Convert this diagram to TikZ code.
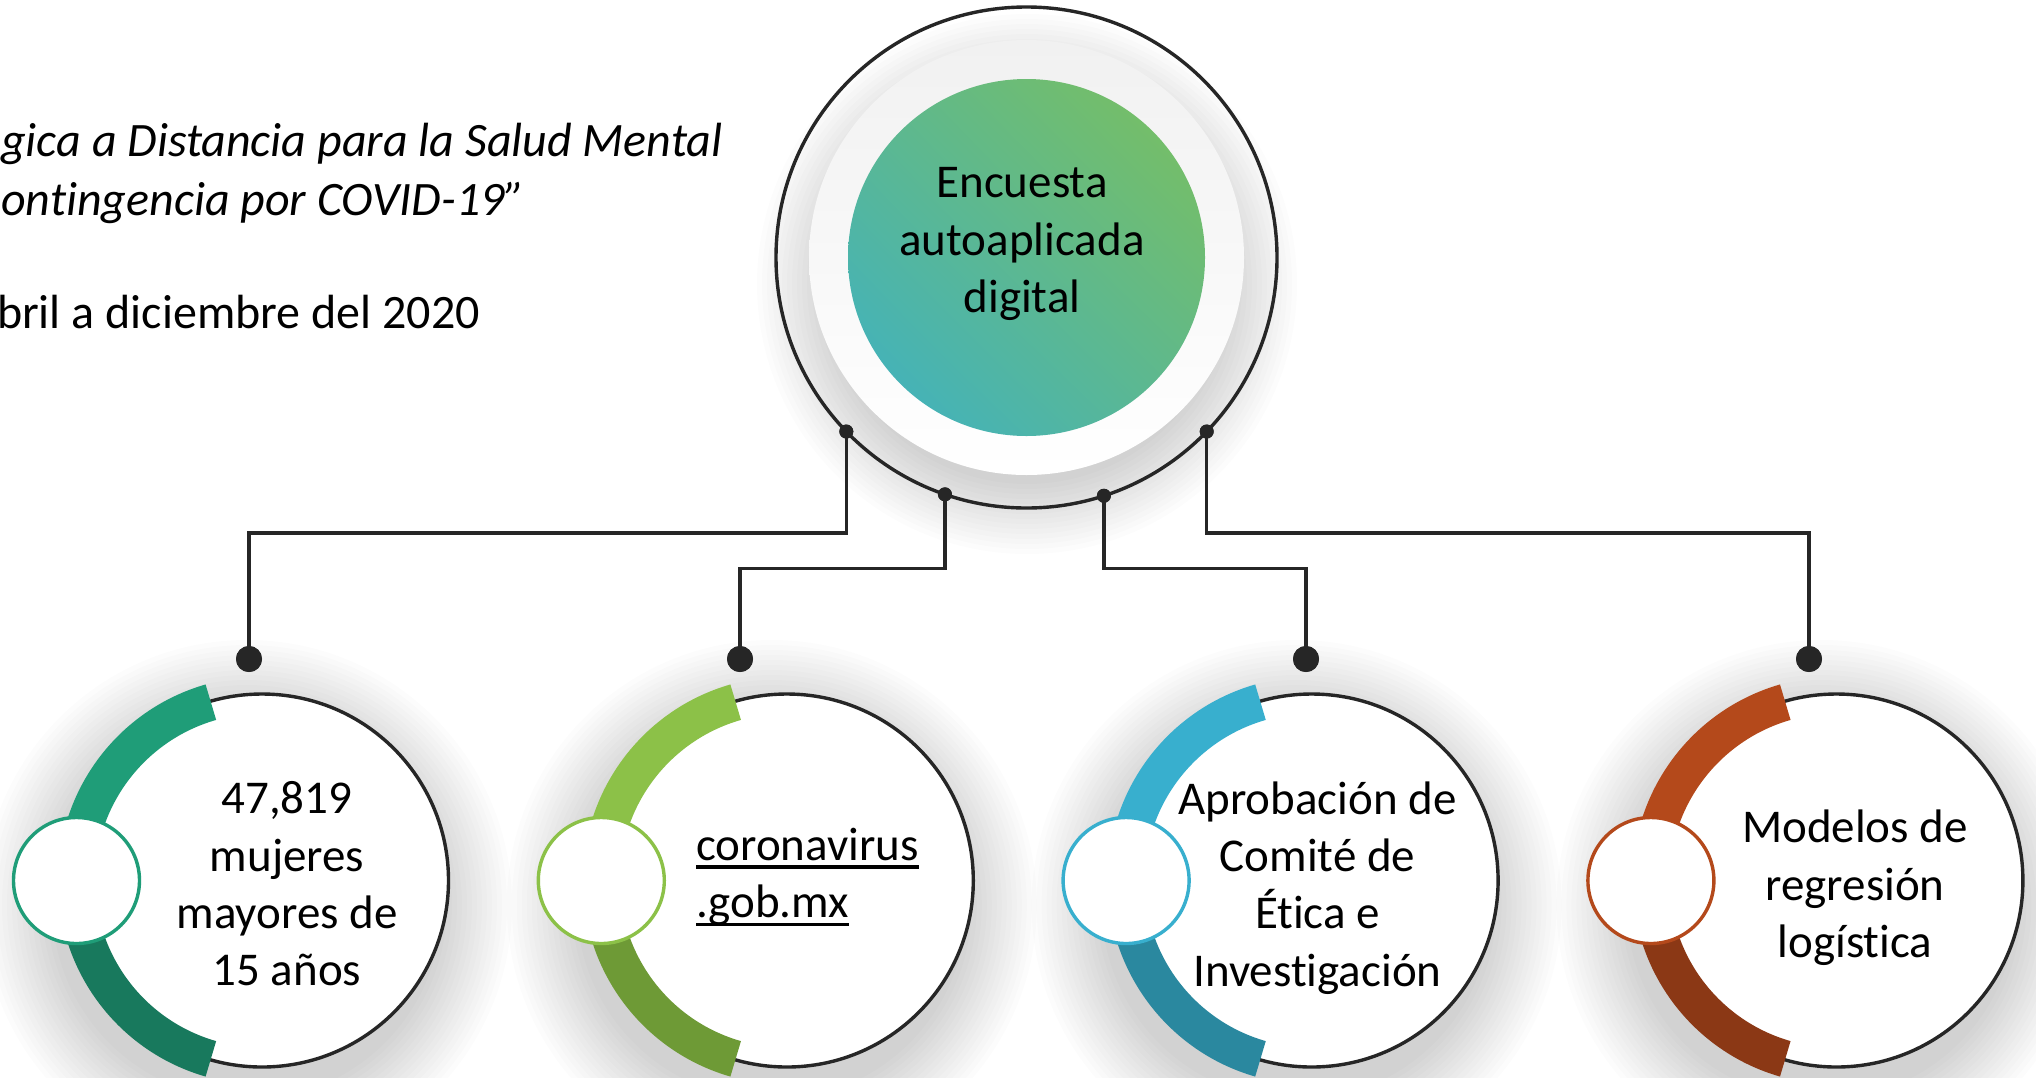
\documentclass[tikz,border=0pt]{standalone}
\usepackage{fontspec}
\setmainfont{Carlito}[Ligatures={NoCommon}]
\usetikzlibrary{calc,shadings}
\definecolor{lineclr}{HTML}{262626}
\definecolor{cAa}{HTML}{1F9D78}
\definecolor{cAb}{HTML}{18795D}
\definecolor{cBa}{HTML}{8CC148}
\definecolor{cBb}{HTML}{6E9A36}
\definecolor{cCa}{HTML}{38AFCE}
\definecolor{cCb}{HTML}{2A889F}
\definecolor{cDa}{HTML}{B4491B}
\definecolor{cDb}{HTML}{8B3815}
\definecolor{gUR}{HTML}{7DC05B}
\definecolor{gLL}{HTML}{3CB1C6}
\definecolor{gMid}{HTML}{5DB88F}
\definecolor{diskTop}{HTML}{F1F1F1}
\newcommand\myul[1]{\setbox0=\hbox{#1}\rlap{\vrule height -5pt depth 8.5pt width \wd0}\box0}
\begin{document}
\begin{tikzpicture}[x=1pt,y=-1pt,
  conn/.style={draw=lineclr, line width=3.4pt},
  topdot/.style={circle, fill=lineclr, inner sep=0pt, minimum size=14pt},
  botdot/.style={circle, fill=lineclr, inner sep=0pt, minimum size=26pt},
  txt/.style={inner sep=0pt, font=\fontsize{47}{57.3}\selectfont, align=center, text=black},
  hdr/.style={inner sep=0pt, font=\fontsize{48}{58}\selectfont, text=black},
  ring/.style={circle, draw=lineclr, line width=3.4pt, fill=white, inner sep=0pt, outer sep=0pt, minimum size=373pt},
  knob/.style={circle, line width=3.4pt, fill=white, inner sep=0pt, minimum size=126pt},
  band/.style={line width=37pt},
]
\useasboundingbox[fill=white] (0,0) rectangle (2036,1077);

% ---------- shadows ----------
\foreach \r in {200,205,...,270}
  \fill[black, fill opacity=0.012] (1027,284) circle[radius=\r];
\foreach \cx in {262,786.8,1311.6,1836.4}{
  \foreach \r in {195,200,...,265}
    \fill[black, fill opacity=0.013] (\cx-15,905) circle[radius=\r];
}

% ---------- top circle ----------
\coordinate (tc) at (1026.5,257.5);
\shade[top color=diskTop, bottom color=white] (tc) circle[radius=217.5];
\shade[upper left=gMid, upper right=gUR, lower left=gLL, lower right=gMid] (tc) circle[radius=178.5];
\node[circle, draw=lineclr, line width=3.4pt, inner sep=0pt, outer sep=0pt, minimum size=501pt] (top) at (tc) {};
\node[txt] (tmain) at (1022,244) {Encuesta\\autoaplicada\\digital};

% ---------- header text ----------
\node[hdr, anchor=base west] (h1) at (1,156) {\itshape gica a Distancia para la Salud Mental};
\node[hdr, anchor=base west] (h2) at (1,215.5) {\itshape ontingencia por COVID-19”};
\node[hdr, anchor=base east] (h3) at (480,328.5) {bril a diciembre del 2020};

% ---------- bottom circles ----------
\node[ring] (b1) at (262,880.5) {};
\node[ring] (b2) at (786.8,880.5) {};
\node[ring] (b3) at (1311.6,880.5) {};
\node[ring] (b4) at (1836.4,880.5) {};

\foreach \b/\ca/\cb in {b1/cAa/cAb, b2/cBa/cBb, b3/cCa/cCb, b4/cDa/cDb}{
  \draw[band, \ca] ($(\b)+(106:185.5pt)$) arc[start angle=106, end angle=181, radius=185.5pt];
  \draw[band, \cb] ($(\b)+(180:185.5pt)$) arc[start angle=180, end angle=254, radius=185.5pt];
}
\node[knob, draw=cAa] (s1) at ($(b1)+(180:185.5pt)$) {};
\node[knob, draw=cBa] (s2) at ($(b2)+(180:185.5pt)$) {};
\node[knob, draw=cCa] (s3) at ($(b3)+(180:185.5pt)$) {};
\node[knob, draw=cDa] (s4) at ($(b4)+(180:185.5pt)$) {};

\node[txt] (x1) at (287,884) {47,819\\mujeres\\mayores de\\15 años};
\node[txt, align=left, anchor=west] (x2) at (696,877) {\myul{coronavirus}\\\myul{.gob.mx}};
\node[txt] (x3) at (1317.5,888) {Aprobación de\\Comité de\\Ética e\\Investigación};
\node[txt] (x4) at (1855,888) {Modelos de\\regresión\\logística};

% ---------- connectors ----------
\node[topdot] (d1) at (top.224) {};
\node[topdot] (d2) at (top.251) {};
\node[topdot] (d3) at (top.288) {};
\node[topdot] (d4) at (top.316) {};
\node[botdot] (e1) at (249,659) {};
\node[botdot] (e2) at (740,659) {};
\node[botdot] (e3) at (1306,659) {};
\node[botdot] (e4) at (1809,659) {};

\draw[conn] (d1.center) -- (d1.center |- 0,533) -| (e1.center);
\draw[conn] (d2.center) -- (d2.center |- 0,568.5) -| (e2.center);
\draw[conn] (d3.center) -- (d3.center |- 0,568.5) -| (e3.center);
\draw[conn] (d4.center) -- (d4.center |- 0,533) -| (e4.center);
\foreach \n in {d1,d2,d3,d4}
  \fill[lineclr] (\n.center) circle[radius=7];
\foreach \n in {e1,e2,e3,e4}
  \fill[lineclr] (\n.center) circle[radius=13];
\end{tikzpicture}
\end{document}
